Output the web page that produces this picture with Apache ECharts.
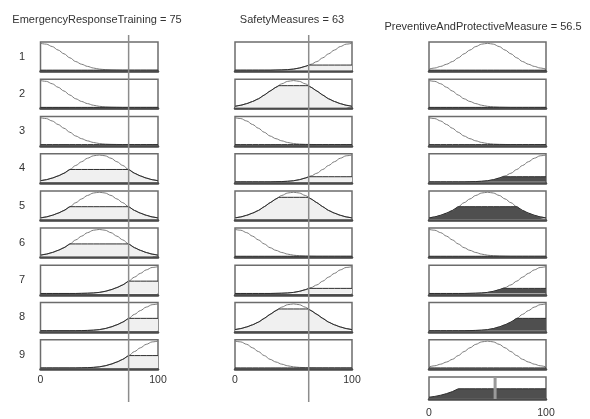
<!DOCTYPE html>
<html>
<head>
<meta charset="utf-8">
<script src="https://cdn.jsdelivr.net/npm/echarts@6/dist/echarts.min.js"></script>
<style>
  html, body { margin: 0; padding: 0; background: #ffffff; }
  #chart { width: 590px; height: 419px; }
</style>
</head>
<body>
<div id="chart"></div>
<script>
// Universe of discourse sampled every 5 units (0..100)
const xSamples = [0, 5, 10, 15, 20, 25, 30, 35, 40, 45, 50, 55, 60, 65, 70, 75, 80, 85, 90, 95, 100];

// Membership function shapes (shared by all three variables)
const lowMf    = [1.00, 0.97, 0.88, 0.75, 0.61, 0.46, 0.32, 0.22, 0.14, 0.08, 0.04, 0.02, 0.01, 0.005, 0, 0, 0, 0, 0, 0, 0];
const mediumMf = [0.04, 0.08, 0.14, 0.22, 0.32, 0.46, 0.61, 0.75, 0.88, 0.97, 1.00, 0.97, 0.88, 0.75, 0.61, 0.46, 0.32, 0.22, 0.14, 0.08, 0.04];
const highMf   = [0, 0, 0, 0, 0, 0, 0, 0.005, 0.01, 0.02, 0.04, 0.08, 0.14, 0.22, 0.32, 0.46, 0.61, 0.75, 0.88, 0.97, 1.00];

// Rule base: antecedent / consequent terms per rule
const ruleNumbers = ['1', '2', '3', '4', '5', '6', '7', '8', '9'];
const ertTerms = ['low', 'low', 'low', 'medium', 'medium', 'medium', 'high', 'high', 'high'];
const smTerms  = ['high', 'medium', 'low', 'high', 'medium', 'low', 'high', 'medium', 'low'];
const outTerms = ['medium', 'low', 'low', 'high', 'medium', 'low', 'high', 'high', 'medium'];

// Crisp inputs and defuzzified output
const ertValue = 75;
const smValue = 63;
const outValue = 56.5;

// Membership degree of each input in the rule's term
const ertDegrees = [0, 0, 0, 0.46, 0.46, 0.46, 0.46, 0.46, 0.46];
const smDegrees  = [0.19, 0.81, 0, 0.19, 0.81, 0, 0.19, 0.81, 0];

// Axis tick labels
const axisTicks = [0, 100];

const titles = [
  'EmergencyResponseTraining = ' + ertValue,
  'SafetyMeasures = ' + smValue,
  'PreventiveAndProtectiveMeasure = ' + outValue
];

const shapes = { low: lowMf, medium: mediumMf, high: highMf };
const firing = ertDegrees.map((d, i) => Math.min(d, smDegrees[i]));

// Curve clipped at a level: min(mf, level), with the crossing corners added
function clipped(mf, level) {
  const pts = [];
  for (let i = 0; i < xSamples.length; i++) {
    if (i > 0) {
      const a = mf[i - 1] - level, b = mf[i] - level;
      if (a * b < 0) {
        const t = a / (a - b);
        pts.push([xSamples[i - 1] + t * (xSamples[i] - xSamples[i - 1]), level]);
      }
    }
    pts.push([xSamples[i], Math.min(mf[i], level)]);
  }
  return pts;
}

function curve(mf) { return xSamples.map((x, i) => [x, mf[i]]); }

// Aggregated output: max over rules of the clipped consequents
const aggregate = xSamples.map((x, i) => {
  let v = 0;
  outTerms.forEach((t, r) => { v = Math.max(v, Math.min(shapes[t][i], firing[r])); });
  return [x, v];
});

// Layout
const colLeft = [40.5, 235, 429];
const colWidth = [117.5, 117, 117];
const rowTop0 = 42, rowPitch = 37.22, rowHeight = 29.5;
const FONT = 'Liberation Sans, Arial, sans-serif';

const grids = [], xAxes = [], yAxes = [], series = [];

function addCell(col, row, showLabels, labelMargin) {
  const idx = grids.length;
  grids.push({
    left: colLeft[col], top: rowTop0 + rowPitch * row,
    width: colWidth[col], height: rowHeight,
    show: true, borderColor: '#6c6c6c', borderWidth: 1.5, backgroundColor: '#ffffff'
  });
  xAxes.push({
    gridIndex: idx, type: 'value', min: axisTicks[0], max: axisTicks[1], interval: 100,
    axisLine: { show: true, onZero: false, lineStyle: { color: '#4a4a4a', width: 2.5 } },
    axisTick: { show: false }, splitLine: { show: false },
    axisLabel: { show: showLabels, margin: labelMargin || 5, fontSize: 10.5, color: '#333', fontFamily: FONT,
                 showMinLabel: true, showMaxLabel: true }
  });
  yAxes.push({
    gridIndex: idx, type: 'value', min: -0.05, max: 1.05,
    show: false, splitLine: { show: false }
  });
  return idx;
}

function addRuleCell(col, row, mf, level, fillColor, showLabels) {
  const idx = addCell(col, row, showLabels);
  const clip = clipped(mf, level);
  series.push({
    type: 'line', xAxisIndex: idx, yAxisIndex: idx, data: clip, z: 2,
    showSymbol: false, silent: true, lineStyle: { width: 0 },
    areaStyle: { color: fillColor, opacity: 1 }
  });
  series.push({
    type: 'line', xAxisIndex: idx, yAxisIndex: idx, data: curve(mf), z: 3,
    showSymbol: false, silent: true, smooth: 0.35, smoothMonotone: 'x',
    lineStyle: { color: '#7c7c7c', width: 1 }
  });
  series.push({
    type: 'line', xAxisIndex: idx, yAxisIndex: idx, data: clip, z: 4,
    showSymbol: false, silent: true,
    lineStyle: { color: '#2e2e2e', width: 1 }
  });
}

for (let r = 0; r < ruleNumbers.length; r++) {
  const last = r === ruleNumbers.length - 1;
  addRuleCell(0, r, shapes[ertTerms[r]], ertDegrees[r], '#f0f0f0', last);
  addRuleCell(1, r, shapes[smTerms[r]], smDegrees[r], '#f0f0f0', last);
  addRuleCell(2, r, shapes[outTerms[r]], firing[r], '#4f4f4f', false);
}

// Aggregated output row with the defuzzified value
const aggIdx = addCell(2, ruleNumbers.length, true, 9);
series.push({
  type: 'line', xAxisIndex: aggIdx, yAxisIndex: aggIdx, data: aggregate, z: 2,
  showSymbol: false, silent: true,
  lineStyle: { color: '#2e2e2e', width: 1 },
  areaStyle: { color: '#4f4f4f', opacity: 1 }
});
series.push({
  type: 'line', xAxisIndex: aggIdx, yAxisIndex: aggIdx, z: 6,
  data: [[outValue, -0.05], [outValue, 1.05]],
  showSymbol: false, silent: true,
  lineStyle: { color: '#9a9a9a', width: 3 }
});

// Input value markers running down each input column
[ertValue, smValue].forEach((v, col) => {
  const idx = grids.length;
  grids.push({ left: colLeft[col], top: 35, width: colWidth[col], height: 367 });
  xAxes.push({ gridIndex: idx, type: 'value', min: 0, max: 100, show: false });
  yAxes.push({ gridIndex: idx, type: 'value', min: 0, max: 1, show: false });
  series.push({
    type: 'line', xAxisIndex: idx, yAxisIndex: idx, z: 10,
    data: [[v, 0], [v, 1]], showSymbol: false, silent: true,
    lineStyle: { color: '#8c8c8c', width: 1.5 }
  });
});

// Text: variable titles and rule numbers
const titleX = [97, 292, 483];
const titleY = [20, 20, 27];
const graphic = titles.map((t, i) => ({
  type: 'text', x: titleX[i], y: titleY[i], silent: true,
  style: { text: t, fill: '#333', font: '11px ' + FONT, textAlign: 'center', textVerticalAlign: 'middle' }
}));
ruleNumbers.forEach((n, r) => {
  graphic.push({
    type: 'text', x: 22, y: rowTop0 + rowPitch * r + rowHeight / 2, silent: true,
    style: { text: n, fill: '#333', font: '11px ' + FONT, textAlign: 'center', textVerticalAlign: 'middle' }
  });
});

const chart = echarts.init(document.getElementById('chart'), null, { renderer: 'canvas' });
chart.setOption({
  animation: false,
  backgroundColor: '#ffffff',
  grid: grids,
  xAxis: xAxes,
  yAxis: yAxes,
  series: series,
  graphic: graphic
});
</script>
</body>
</html>
